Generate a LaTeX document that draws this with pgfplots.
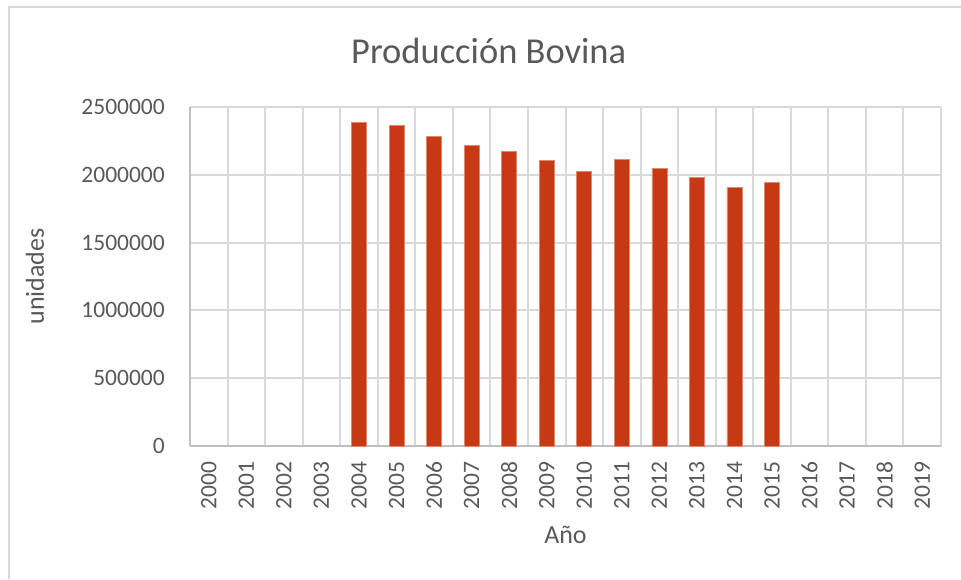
\documentclass[border=0pt]{standalone}
\usepackage{fontspec}
\setmainfont{Carlito}
\usepackage{pgfplots}
\pgfplotsset{compat=1.18}
\definecolor{txt}{HTML}{595959}
\definecolor{gridc}{HTML}{D9D9D9}
\definecolor{axc}{HTML}{BFBFBF}
\definecolor{barc}{RGB}{199,57,18}
\begin{document}
\begin{tikzpicture}[x=1pt,y=1pt]
\useasboundingbox (0,0) rectangle (961,579);
\draw[gridc, line width=2pt] (9,0) -- (9,572) -- (961,572);
\node[anchor=base, text=txt, font=\fontsize{36.5}{42}\selectfont] at (488.7,515.7) {Producción Bovina};
\begin{axis}[at={(190pt,133pt)}, anchor=south west,
  width=751pt, height=339pt, scale only axis,
  ybar, bar width=15pt,
  xmin=-0.5, xmax=19.5, ymin=0, ymax=2500000,
  xtick={0,...,19},
  xticklabels={2000,2001,2002,2003,2004,2005,2006,2007,2008,2009,2010,2011,2012,2013,2014,2015,2016,2017,2018,2019},
  minor xtick={-0.5,0.5,...,19.5},
  ytick={0,500000,1000000,1500000,2000000,2500000},
  scaled y ticks=false,
  /pgf/number format/.cd, fixed, 1000 sep={}, assume math mode=true, /pgfplots/.cd,
  major tick length=0pt, minor tick length=0pt,
  xminorgrids=true, ymajorgrids=true, xmajorgrids=false,
  grid style={gridc, line width=2pt},
  minor grid style={gridc, line width=2pt},
  axis x line*=bottom, axis y line*=left,
  axis line style={axc, line width=2pt, -},
  tick label style={text=txt, font=\fontsize{23.5}{28}\selectfont},
  yticklabel style={anchor=east, inner sep=0pt, xshift=-25pt},
  xticklabel style={rotate=90, anchor=east, inner sep=0pt},
  xticklabel shift=15.7pt,
  xlabel={Año}, ylabel={unidades},
  label style={text=txt, font=\fontsize{26}{31}\selectfont},
  xlabel style={at={(axis description cs:0.5,0)}, anchor=base, yshift=-97.3pt},
  ylabel style={at={(axis description cs:-0.2064,0.5)}, anchor=center},
  clip=false,
]
\addplot[fill=barc, draw=barc!60!white, line width=0.6pt] coordinates {
(4,2389000) (5,2362000) (6,2286000) (7,2219000) (8,2170000) (9,2104000)
(10,2028000) (11,2113000) (12,2050000) (13,1983000) (14,1907000) (15,1946000)
};
\end{axis}
\end{tikzpicture}
\end{document}
